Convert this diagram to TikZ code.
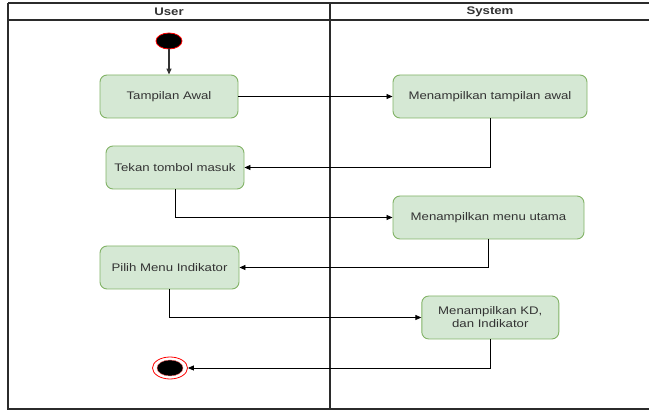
\documentclass[tikz,border=0pt]{standalone}
\usepackage{fontspec}
\setmainfont{Liberation Sans}[FakeStretch=1.2]
\usetikzlibrary{shapes.geometric,arrows.meta}
\definecolor{actfill}{HTML}{D5E8D4}
\definecolor{actdraw}{HTML}{82B366}
\definecolor{txt}{HTML}{333333}
\definecolor{frame}{HTML}{2B2B2B}
\begin{document}
\begin{tikzpicture}[x=1pt,y=-1pt,
  act/.style={draw=actdraw, fill=actfill, rounded corners=7pt, line width=0.9pt,
    font=\fontsize{11}{13}\selectfont, text=txt, align=center, inner sep=0pt,
    minimum height=43pt},
  flow/.style={draw=black, line width=0.8pt, -{Triangle[length=6pt,width=5pt]}},
  lane/.style={font=\bfseries\fontsize{11}{13}\selectfont, text=txt},
  startdot/.style={ellipse, draw=red, fill=black, line width=0.8pt,
    minimum width=26pt, minimum height=16pt, inner sep=0pt},
  endring/.style={ellipse, draw=red, fill=white, line width=0.8pt,
    minimum width=35pt, minimum height=22pt, inner sep=0pt},
  enddot/.style={ellipse, draw=red!60, fill=black, line width=0.4pt,
    minimum width=26pt, minimum height=16pt, inner sep=0pt},
]
\useasboundingbox (0,0) rectangle (649,411);
\fill[white] (0,0) rectangle (649,411);

% swimlane frame
\draw[frame, line width=1.2pt] (8,3) -- (652,3) (8,20) -- (652,20)
  (8,3) -- (8,409) -- (652,409);
\draw[frame, line width=2pt] (330,3) -- (330,409);
\node[lane] (userlbl) at (169,12) {User};
\node[lane] (syslbl) at (490,12) {System};

% activities
\node[startdot] (start) at (169,41) {};
\node[act, minimum width=138pt] (awal) at (169,96.5) {Tampilan Awal};
\node[act, minimum width=194pt] (tawal) at (490,96.5) {Menampilkan tampilan awal};
\node[act, minimum width=138pt] (tekan) at (175,167.5) {Tekan tombol masuk};
\node[act, minimum width=191pt] (menu) at (488.5,217.5) {Menampilkan menu utama};
\node[act, minimum width=139pt] (pilih) at (169.5,267.5) {Pilih Menu Indikator};
\node[act, minimum width=137pt] (kd) at (490.3,317.5) {Menampilkan KD,\\dan Indikator};
\node[endring] (endo) at (170,368) {};
\node[enddot] (endi) at (170,368) {};

% control flow
\draw[flow, draw=txt, line width=1.3pt] (start) -- (awal);
\draw[flow] (awal) -- (tawal);
\draw[flow] (tawal.south) |- (tekan.east);
\draw[flow] (tekan.south) |- (menu.west);
\draw[flow] (menu.south) |- (pilih.east);
\draw[flow] (pilih.south) |- (kd.west);
\draw[flow] (kd.south) |- (endo.east);
\end{tikzpicture}
\end{document}
